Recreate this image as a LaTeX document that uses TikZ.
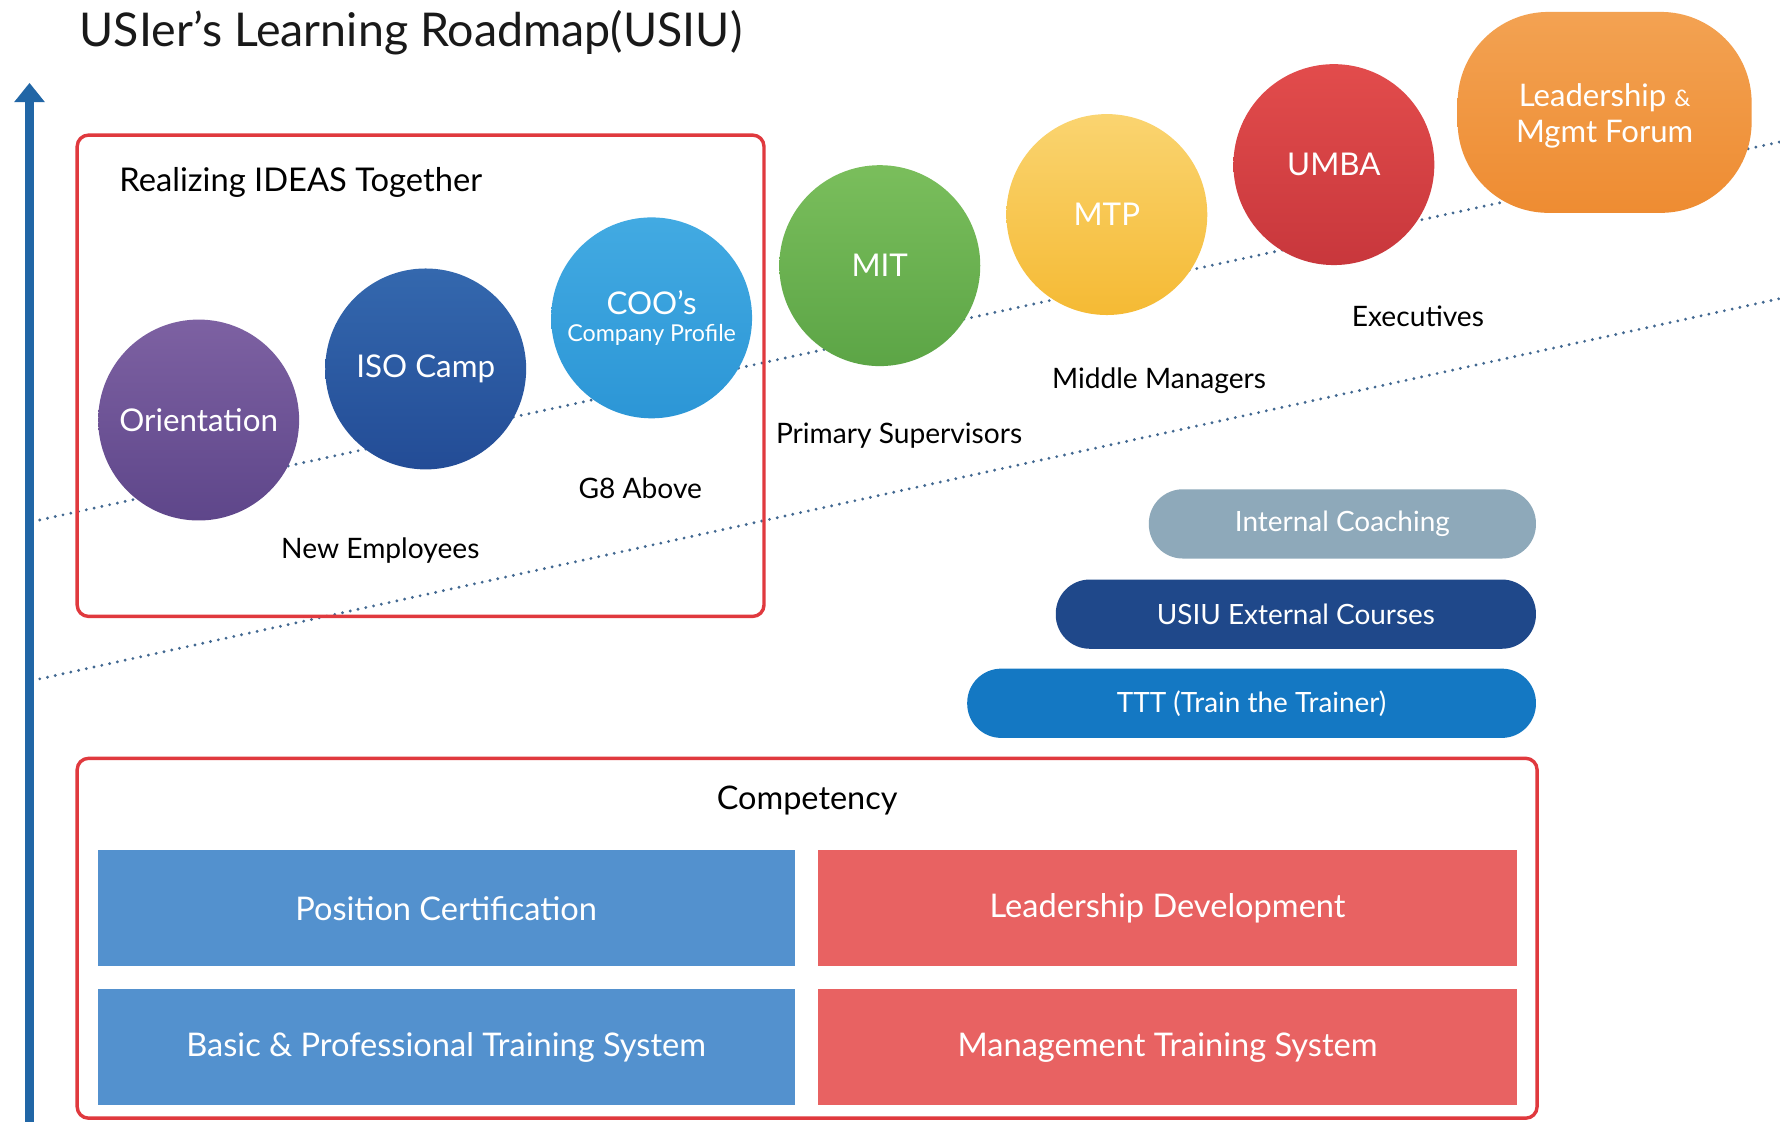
\documentclass[tikz,border=0pt]{standalone}
\usepackage{fontspec}
\setmainfont{Lato}
\usetikzlibrary{arrows.meta,shapes.geometric}
\definecolor{axisblue}{RGB}{33,102,166}
\definecolor{framered}{RGB}{224,57,62}
\definecolor{dotcol}{RGB}{66,104,145}
\definecolor{coachgray}{RGB}{142,169,186}
\definecolor{extblue}{RGB}{31,72,138}
\definecolor{tttblue}{RGB}{20,120,195}
\definecolor{boxblue}{RGB}{83,145,206}
\definecolor{boxred}{RGB}{232,98,98}
\definecolor{purT}{RGB}{125,97,162}\definecolor{purB}{RGB}{94,70,138}
\definecolor{isoT}{RGB}{52,104,174}\definecolor{isoB}{RGB}{35,76,150}
\definecolor{cooT}{RGB}{66,170,226}\definecolor{cooB}{RGB}{44,150,214}
\definecolor{mitT}{RGB}{122,190,92}\definecolor{mitB}{RGB}{92,165,70}
\definecolor{mtpT}{RGB}{250,212,112}\definecolor{mtpB}{RGB}{245,186,52}
\definecolor{umbT}{RGB}{226,76,76}\definecolor{umbB}{RGB}{200,55,60}
\definecolor{forT}{RGB}{243,162,82}\definecolor{forB}{RGB}{238,140,50}
\tikzset{
  frame/.style={draw=framered,line width=3pt,rounded corners=10pt},
  dotline/.style={dotcol,line width=2.8pt,dash pattern=on 0pt off 7pt,line cap=round},
  ball/.style={circle,minimum size=177pt,inner sep=0pt,text=white,font=\fontsize{27.6}{30}\selectfont,align=center},
  lbl/.style={text=black,font=\fontsize{24.8}{28}\selectfont,inner sep=0pt},
  pill/.style={rounded corners=30pt,minimum height=61pt,inner sep=0pt,text=white,font=\fontsize{24.6}{28}\selectfont},
  compbox/.style={minimum width=614pt,minimum height=102pt,inner sep=0pt,text=white,font=\fontsize{28.7}{32}\selectfont}
}
\begin{document}
\begin{tikzpicture}[x=1pt,y=-1pt]
\useasboundingbox (0,0) rectangle (1568,988);
\fill[white] (0,0) rectangle (1568,988);
% title
\node[anchor=base west,inner sep=0pt,font=\fontsize{41}{46}\selectfont,text={black!90}] (title) at (70,41) {USIer’s Learning Roadmap(USIU)};
% axis
\coordinate (axbot) at (26,990);
\coordinate (axtop) at (26,73);
\draw[axisblue,line width=8pt,-{Triangle[width=26pt,length=17pt]}] (axbot) -- (axtop);
% dotted lines
\coordinate (d1a) at (35,458);
\coordinate (d1b) at (1568,125);
\coordinate (d2a) at (35,598);
\coordinate (d2b) at (1568,263);
\draw[dotline] (d1a) -- (d1b);
\draw[dotline] (d2a) -- (d2b);
% top frame
\node[frame,minimum width=605pt,minimum height=424pt,inner sep=0pt] (ideas) at (370.5,331) {};
\node[anchor=west,inner sep=0pt,font=\fontsize{28.8}{32}\selectfont] (ideastitle) at (105,161) {Realizing IDEAS Together};
% balls
\node[ball,top color=purT,bottom color=purB] (orient) at (175,370) {Orientation};
\node[ball,top color=isoT,bottom color=isoB] (iso) at (375,325) {ISO Camp};
\node[ball,top color=cooT,bottom color=cooB] (coo) at (574,280) {COO’s\\[-6pt]{\fontsize{20.5}{23}\selectfont Company Profile}};
\node[ball,top color=mitT,bottom color=mitB] (mit) at (775,234) {MIT};
\node[ball,top color=mtpT,bottom color=mtpB] (mtp) at (975,189) {MTP};
\node[ball,top color=umbT,bottom color=umbB] (umba) at (1175,145) {UMBA};
\node[rounded corners=80pt,minimum width=259pt,minimum height=177pt,inner sep=0pt,top color=forT,bottom color=forB] (forum) at (1413.5,99) {};
\node[text=white,align=center,inner sep=0pt,font=\fontsize{27.4}{32}\selectfont] (forumtxt) at (1413.5,102) {Leadership {\fontsize{20}{24}\selectfont\&}\\Mgmt Forum};
% level labels
\node[lbl] (newemp) at (335,485) {New Employees};
\node[lbl] (g8) at (564,430) {G8 Above};
\node[lbl] (prim) at (792,384) {Primary Supervisors};
\node[lbl] (midm) at (1021,335) {Middle Managers};
\node[lbl] (exec) at (1249,279) {Executives};
% pills
\node[pill,fill=coachgray,minimum width=341pt] (coach) at (1182.5,461.5) {Internal Coaching};
\node[pill,fill=extblue,minimum width=423pt] (ext) at (1141.5,541) {USIU External Courses};
\node[pill,fill=tttblue,minimum width=501pt] (ttt) at (1102.5,619.5) {TTT (Train the Trainer)};
% competency frame
\node[frame,minimum width=1286pt,minimum height=317pt,inner sep=0pt] (comp) at (711,826.5) {};
\node[inner sep=0pt,font=\fontsize{28.6}{32}\selectfont] (comptitle) at (711,705) {Competency};
\node[compbox,fill=boxblue] (poscert) at (393,800) {Position Certification};
\node[compbox,fill=boxred,minimum width=615pt] (leaddev) at (1028.5,800) {Leadership Development};
\node[compbox,fill=boxblue] (basic) at (393,922.5) {Basic \& Professional Training System};
\node[compbox,fill=boxred,minimum width=615pt] (mgmt) at (1028.5,922.5) {Management Training System};
\end{tikzpicture}
\end{document}
